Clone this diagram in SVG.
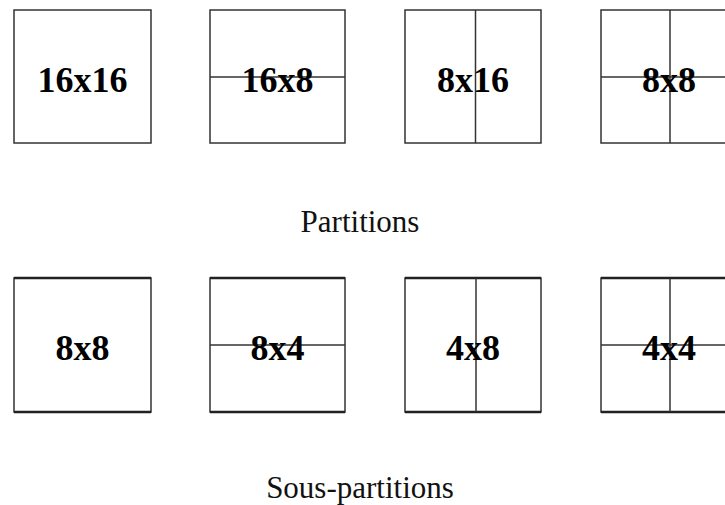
<svg xmlns="http://www.w3.org/2000/svg" width="725" height="505" viewBox="0 0 725 505">
<style>
.box{fill:#fff;stroke:#333;stroke-width:1.5}
.edge{stroke:#222;stroke-width:2.5}
.div{stroke:#333;stroke-width:1.5}
.lbl{font-family:"Liberation Serif",serif;font-weight:bold;font-size:36px;text-anchor:middle;fill:#000}
.cap{font-family:"Liberation Serif",serif;font-size:31px;text-anchor:middle;fill:#111}
</style>
<rect width="725" height="505" fill="#fff"/>
<g id="p16x16"><rect class="box" x="14" y="10" width="137" height="133"/><text class="lbl" x="82.5" y="92">16x16</text></g>
<g id="p16x8"><rect class="box" x="210" y="10" width="135" height="133"/><line class="div" x1="210" y1="77" x2="345" y2="77"/><text class="lbl" x="277.5" y="92">16x8</text></g>
<g id="p8x16"><rect class="box" x="405" y="10" width="136" height="133"/><line class="div" x1="475.5" y1="10" x2="475.5" y2="143"/><text class="lbl" x="473" y="92">8x16</text></g>
<g id="p8x8"><rect class="box" x="601" y="10" width="136" height="133"/><line class="div" x1="670" y1="10" x2="670" y2="143"/><line class="div" x1="601" y1="77" x2="737" y2="77"/><text class="lbl" x="669" y="92">8x8</text></g>
<text class="cap" x="360" y="232">Partitions</text>
<g id="s8x8"><rect class="box" x="14" y="278" width="137" height="134"/><line class="edge" x1="14" y1="278" x2="151" y2="278"/><line class="edge" x1="14" y1="412" x2="151" y2="412"/><text class="lbl" x="82.5" y="360">8x8</text></g>
<g id="s8x4"><rect class="box" x="210" y="278" width="135" height="134"/><line class="edge" x1="210" y1="278" x2="345" y2="278"/><line class="edge" x1="210" y1="412" x2="345" y2="412"/><line class="div" x1="210" y1="345" x2="345" y2="345"/><text class="lbl" x="277.5" y="360">8x4</text></g>
<g id="s4x8"><rect class="box" x="405" y="278" width="136" height="134"/><line class="edge" x1="405" y1="278" x2="541" y2="278"/><line class="edge" x1="405" y1="412" x2="541" y2="412"/><line class="div" x1="476" y1="278" x2="476" y2="412"/><text class="lbl" x="473" y="360">4x8</text></g>
<g id="s4x4"><rect class="box" x="601" y="278" width="136" height="134"/><line class="edge" x1="601" y1="278" x2="737" y2="278"/><line class="edge" x1="601" y1="412" x2="737" y2="412"/><line class="div" x1="670" y1="278" x2="670" y2="412"/><line class="div" x1="601" y1="345" x2="737" y2="345"/><text class="lbl" x="669" y="360">4x4</text></g>
<text class="cap" x="360" y="498">Sous-partitions</text>
</svg>
